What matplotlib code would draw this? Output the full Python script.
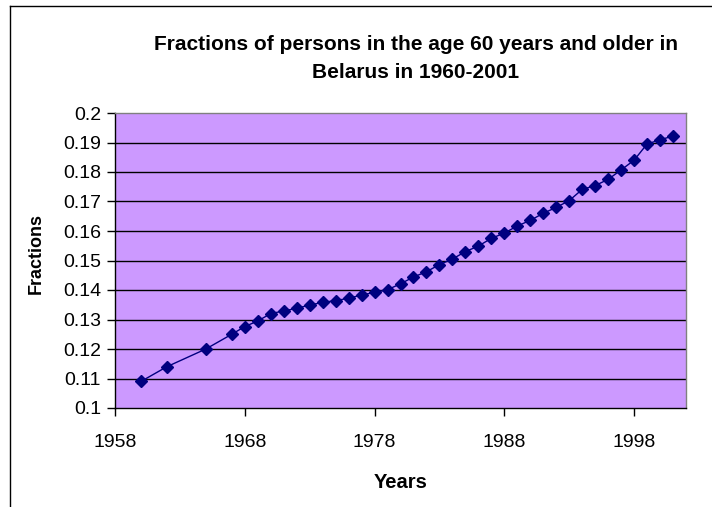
import matplotlib
matplotlib.use('Agg')
import matplotlib.pyplot as plt
from matplotlib.lines import Line2D

# data
years = [1960, 1962, 1965, 1967, 1968, 1969, 1970, 1971, 1972, 1973, 1974,
         1975, 1976, 1977, 1978, 1979, 1980, 1981, 1982, 1983, 1984, 1985,
         1986, 1987, 1988, 1989, 1990, 1991, 1992, 1993, 1994, 1995, 1996,
         1997, 1998, 1999, 2000, 2001]
fractions = [0.109, 0.114, 0.120, 0.125, 0.1276, 0.1295, 0.132, 0.1329, 0.1338,
             0.1349, 0.1358, 0.1364, 0.1372, 0.1383, 0.1392, 0.1401, 0.1421,
             0.1444, 0.1462, 0.1486, 0.1505, 0.153, 0.1549, 0.1575, 0.1593,
             0.1617, 0.1636, 0.166, 0.168, 0.1703, 0.1741, 0.1754, 0.1775,
             0.1807, 0.184, 0.1895, 0.1909, 0.1922]
xticks = [1958, 1968, 1978, 1988, 1998]
yticks = [0.1, 0.11, 0.12, 0.13, 0.14, 0.15, 0.16, 0.17, 0.18, 0.19, 0.2]
ytick_labels = ['0.1', '0.11', '0.12', '0.13', '0.14', '0.15', '0.16', '0.17', '0.18', '0.19', '0.2']

plt.rcParams['font.family'] = ['Liberation Sans', 'DejaVu Sans']

W, H = 712, 507
fig = plt.figure(figsize=(W/100, H/100), dpi=100)
fig.patch.set_facecolor('white')

# outer chart border (left and top only visible)
fig.add_artist(Line2D([10/W, 10/W], [0, 1 - 6/H], color='black', lw=1, transform=fig.transFigure))
fig.add_artist(Line2D([10/W, 1], [1 - 6/H, 1 - 6/H], color='black', lw=1, transform=fig.transFigure))

left, right, top, bottom = 115, 686, 113, 408
ax = fig.add_axes([left/W, 1 - bottom/H, (right-left)/W, (bottom-top)/H])
ax.set_facecolor('#CC99FF')

for v in yticks[1:-1]:
    ax.axhline(v, color='black', lw=1, zorder=1)

ax.plot(years, fractions, color='#000080', lw=1.0, marker='D', markersize=6,
        markerfacecolor='#000080', markeredgecolor='#000080', zorder=3)

ax.set_xlim(1958, 2002)
ax.set_ylim(0.1, 0.2)
ax.set_xticks(xticks)
ax.set_xticklabels([str(x) for x in xticks])
ax.set_yticks(yticks)
ax.set_yticklabels(ytick_labels)
ax.tick_params(axis='both', direction='out', length=6, width=1, color='black',
               labelsize=14, pad=4)
ax.tick_params(axis='x', pad=13)

ax.spines['left'].set_color('black')
ax.spines['bottom'].set_color('black')
ax.spines['top'].set_color('#808080')
ax.spines['right'].set_color('#808080')
for s in ax.spines.values():
    s.set_linewidth(1)

fig.text(416/W, 1 - 44/H, 'Fractions of persons in the age 60 years and older in',
         ha='center', va='center', fontsize=15, fontweight='bold')
fig.text(416/W, 1 - 72/H, 'Belarus in 1960-2001',
         ha='center', va='center', fontsize=15, fontweight='bold')
fig.text(36/W, 1 - 253/H, 'Fractions', rotation=90, ha='center', va='center',
         fontsize=13, fontweight='bold')
fig.text(401/W, 1 - 482/H, 'Years', ha='center', va='center',
         fontsize=14.5, fontweight='bold')

fig.savefig('out.png', dpi=100)
